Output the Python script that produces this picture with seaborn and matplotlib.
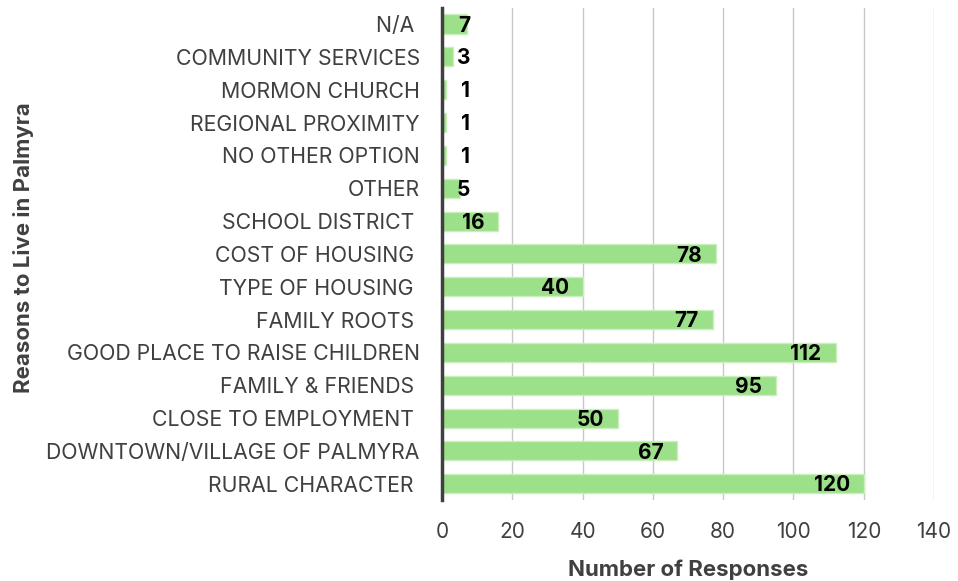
import matplotlib
matplotlib.use("Agg")
import matplotlib.pyplot as plt
import seaborn as sns
import pandas as pd

reasons = [
    "N/A ",
    "COMMUNITY SERVICES",
    "MORMON CHURCH",
    "REGIONAL PROXIMITY",
    "NO OTHER OPTION",
    "OTHER",
    "SCHOOL DISTRICT ",
    "COST OF HOUSING ",
    "TYPE OF HOUSING ",
    "FAMILY ROOTS ",
    "GOOD PLACE TO RAISE CHILDREN",
    "FAMILY & FRIENDS ",
    "CLOSE TO EMPLOYMENT ",
    "DOWNTOWN/VILLAGE OF PALMYRA",
    "RURAL CHARACTER ",
]
responses = [7, 3, 1, 1, 1, 5, 16, 78, 40, 77, 112, 95, 50, 67, 120]
x_ticks = [0, 20, 40, 60, 80, 100, 120, 140]

df = pd.DataFrame({"reason": reasons, "count": responses})

sns.set_theme(style="white")
plt.rcParams["font.family"] = ["Inter", "DejaVu Sans"]

fig = plt.figure(figsize=(9.58, 5.81), dpi=100)
ax = fig.add_axes([0.4614, 0.139, 0.5136, 0.848])

sns.barplot(data=df, y="reason", x="count", orient="h", color="#9de08a",
            saturation=1, width=0.58, edgecolor="#c9efbd", linewidth=1,
            ax=ax, zorder=3)

ax.set_xlim(0, 140)
ax.set_xticks(x_ticks)
ax.set_xticklabels([str(t) for t in x_ticks])
ax.grid(axis="x", color="#c8c8c8", linewidth=1, zorder=0)
ax.set_axisbelow(True)

for s in ["top", "right", "bottom"]:
    ax.spines[s].set_visible(False)
ax.spines["left"].set_color("#404040")
ax.spines["left"].set_linewidth(2.5)
ax.spines["left"].set_zorder(5)

ax.tick_params(axis="both", length=0, colors="#404040")
ax.tick_params(axis="y", pad=16, labelsize=15.3)
ax.tick_params(axis="x", pad=16, labelsize=15)

ax.set_xlabel("Number of Responses", fontsize=16, fontweight="bold",
              color="#404040", labelpad=12)
ax.set_ylabel("Reasons to Live in Palmyra", fontsize=16, fontweight="bold",
              color="#404040")
ax.yaxis.set_label_coords(-0.829, 0.512)

# value labels sit just inside the bar end; short bars keep them clear of the axis
for i, v in enumerate(responses):
    ax.text(max(v - 4.0, 8.0), i + 0.05, str(v), ha="right", va="center",
            fontsize=15, fontweight="bold", color="black", zorder=6)

fig.savefig("out.png", dpi=100)
